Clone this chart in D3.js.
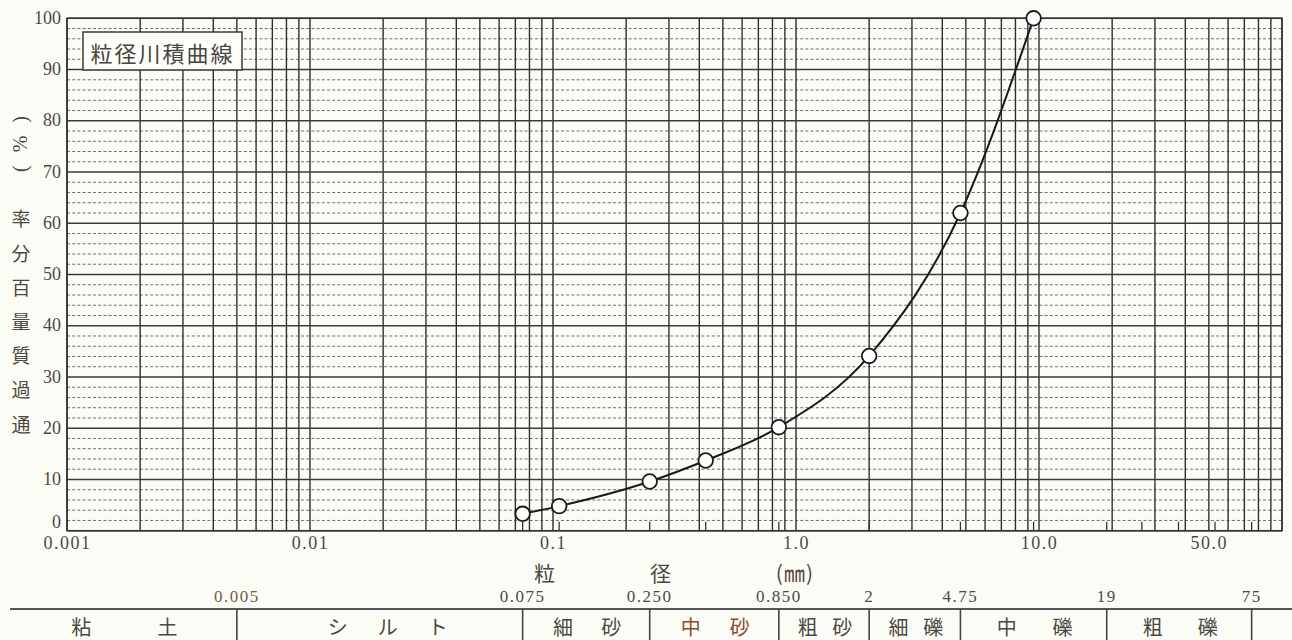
<!DOCTYPE html>
<html lang="ja">
<head>
<meta charset="utf-8">
<script src="https://cdn.jsdelivr.net/npm/d3@7/dist/d3.min.js"></script>
<style>
  html, body { margin: 0; padding: 0; background: #fcfcf7; }
  svg { display: block; }
</style>
</head>
<body>
<svg id="chart" width="1292" height="640"></svg>
<script>
// ---------- data ----------
const sieveSizes = [0.075, 0.106, 0.25, 0.425, 0.85, 2, 4.75, 9.5];      // mm
const passingPct = [3.3, 4.8, 9.6, 13.7, 20.2, 34.1, 62.0, 100];          // %
const yTickValues = [0, 10, 20, 30, 40, 50, 60, 70, 80, 90, 100];
const xTickValues = [0.001, 0.01, 0.1, 1, 10, 50];
const xTickLabels = ["0.001", "0.01", "0.1", "1.0", "10.0", "50.0"];
const sieveMarks = [0.075, 0.106, 0.25, 0.425, 0.85, 2, 4.75, 9.5, 19, 26.5, 37.5, 53, 75];
const boundaryValues = [0.005, 0.075, 0.25, 0.85, 2, 4.75, 19, 75];
const boundaryLabels = ["0.005", "0.075", "0.250", "0.850", "2", "4.75", "19", "75"];
const soilClasses = ["粘土", "シルト", "細砂", "中砂", "粗砂", "細礫", "中礫", "粗礫"];
const chartTitle = "粒径川積曲線";
const yTitleChars = ["通", "過", "質", "量", "百", "分", "率"];
const yTitleUnit = "( % )";
const xTitleParts = [{t: "粒", v: 0.0927}, {t: "径", v: 0.278}, {t: "(㎜)", v: 0.99}];

// ---------- layout ----------
const L = 67, R = 1282, T = 18.3, B = 530.7;
const svg = d3.select("#chart");
const x = d3.scaleLog().domain([0.001, 100]).range([L, R]);
const y = d3.scaleLinear().domain([0, 100]).range([B, T]);

const numFont = "'Liberation Serif', 'DejaVu Serif', serif";
const cjkFont = "'Noto Sans CJK JP', 'Noto Sans', sans-serif";
const textCol = "#4e4843";

// ---------- grid ----------
const grid = svg.append("g");
// minor horizontal (dotted) every 2 %
const minorY = d3.range(2, 100, 2).filter(v => v % 10 !== 0);
grid.selectAll("line.hmin").data(minorY).enter().append("line")
  .attr("x1", L).attr("x2", R)
  .attr("y1", d => y(d)).attr("y2", d => y(d))
  .attr("stroke", "#6e6e6e").attr("stroke-width", 1)
  .attr("stroke-dasharray", "3,2.2");
// vertical lines 1..9 per decade
const vLines = [];
[0.001, 0.01, 0.1, 1, 10].forEach(d => { for (let k = 1; k <= 9; k++) vLines.push(d * k); });
vLines.push(100);
grid.selectAll("line.v").data(vLines).enter().append("line")
  .attr("x1", d => x(d)).attr("x2", d => x(d))
  .attr("y1", T).attr("y2", B)
  .attr("stroke", "#2e2e2e").attr("stroke-width", 1.4);
// major horizontal every 10 %
grid.selectAll("line.hmaj").data(yTickValues).enter().append("line")
  .attr("x1", L).attr("x2", R)
  .attr("y1", d => y(d)).attr("y2", d => y(d))
  .attr("stroke", "#3a3a3a").attr("stroke-width", 1.4);
// sieve marks on bottom
grid.selectAll("line.sv").data(sieveMarks).enter().append("line")
  .attr("x1", d => x(d)).attr("x2", d => x(d))
  .attr("y1", B).attr("y2", B - 9)
  .attr("stroke", "#333").attr("stroke-width", 1.3);
// frame
svg.append("rect").attr("x", L).attr("y", T).attr("width", R - L).attr("height", B - T)
  .attr("fill", "none").attr("stroke", "#333").attr("stroke-width", 1.5);

// ---------- axes labels ----------
const yAxis = d3.axisLeft(y).tickValues(yTickValues).tickSize(0).tickPadding(5);
const gy = svg.append("g").attr("transform", `translate(${L - 1},0)`).call(yAxis);
gy.select(".domain").remove();
gy.selectAll("text").attr("font-family", numFont).attr("font-size", 18)
  .attr("fill", textCol).attr("dy", d => d === 0 ? "-0.2em" : "0.28em");

const xAxis = d3.axisBottom(x).tickValues(xTickValues).tickSize(0).tickPadding(4)
  .tickFormat((d, i) => xTickLabels[i]);
const gx = svg.append("g").attr("transform", `translate(0,${B})`).call(xAxis);
gx.select(".domain").remove();
gx.selectAll("text").attr("font-family", numFont).attr("font-size", 18)
  .attr("fill", textCol).attr("letter-spacing", 1.5).attr("dy", "0.8em");

// y axis title (vertical, read bottom to top)
const yTitleStart = 423, yTitleStep = 34.2;
svg.append("g").selectAll("text").data(yTitleChars).enter().append("text")
  .attr("x", 21).attr("y", (d, i) => yTitleStart - i * yTitleStep)
  .attr("text-anchor", "middle").attr("dominant-baseline", "central")
  .attr("font-family", cjkFont).attr("font-size", 19).attr("fill", textCol)
  .text(d => d);
svg.append("text")
  .attr("transform", "translate(20,142) rotate(-90)")
  .attr("text-anchor", "middle").attr("dominant-baseline", "central")
  .attr("font-family", numFont).attr("font-size", 20).attr("fill", textCol)
  .attr("xml:space", "preserve").attr("letter-spacing", 4)
  .text(yTitleUnit);

// x title
svg.append("g").selectAll("text").data(xTitleParts).enter().append("text")
  .attr("x", d => x(d.v)).attr("y", 572)
  .attr("text-anchor", "middle").attr("dominant-baseline", "central")
  .attr("font-family", cjkFont).attr("font-size", 21).attr("fill", textCol)
  .attr("letter-spacing", 1)
  .text(d => d.t);

// ---------- curve ----------
const pts = sieveSizes.map((s, i) => [s, passingPct[i]]);
const line = d3.line().x(d => x(d[0])).y(d => y(d[1])).curve(d3.curveMonotoneX);
svg.append("path").datum(pts).attr("d", line)
  .attr("fill", "none").attr("stroke", "#1a1a1a").attr("stroke-width", 2);
svg.append("g").selectAll("circle").data(pts).enter().append("circle")
  .attr("cx", d => x(d[0])).attr("cy", d => y(d[1])).attr("r", 7.3)
  .attr("fill", "#fff").attr("stroke", "#1a1a1a").attr("stroke-width", 1.8);

// ---------- title box ----------
svg.append("rect").attr("x", 83).attr("y", 32).attr("width", 159).attr("height", 38)
  .attr("fill", "#fdfdf9").attr("stroke", "#3a3a3a").attr("stroke-width", 1.5);
svg.append("text").attr("x", 162.5).attr("y", 52)
  .attr("text-anchor", "middle").attr("dominant-baseline", "central")
  .attr("font-family", cjkFont).attr("font-size", 22).attr("letter-spacing", 2)
  .attr("fill", "#4a4440").text(chartTitle);

// ---------- classification table ----------
const tableLineY = 609, tableText = 626, tableLeft = 10;
svg.append("line").attr("x1", tableLeft).attr("x2", 1292)
  .attr("y1", tableLineY).attr("y2", tableLineY)
  .attr("stroke", "#555").attr("stroke-width", 2);
svg.append("g").selectAll("line").data(boundaryValues).enter().append("line")
  .attr("x1", d => x(d)).attr("x2", d => x(d))
  .attr("y1", tableLineY).attr("y2", 640)
  .attr("stroke", "#444").attr("stroke-width", 1.6);
svg.append("g").selectAll("text").data(boundaryValues).enter().append("text")
  .attr("x", d => x(d)).attr("y", 596)
  .attr("text-anchor", "middle").attr("dominant-baseline", "central")
  .attr("font-family", numFont).attr("font-size", 17).attr("letter-spacing", 1.5)
  .attr("fill", (d, i) => i === 0 ? "#7a5a45" : textCol)
  .text((d, i) => boundaryLabels[i]);

const edges = [tableLeft].concat(boundaryValues.map(v => x(v)));
soilClasses.forEach((name, i) => {
  const x0 = edges[i], x1 = edges[i + 1];
  const chars = Array.from(name);
  const n = chars.length;
  const span = (x1 - x0) * (n > 2 ? 0.35 : 0.38);
  const cx = (x0 + x1) / 2 + (n > 2 ? 8 : 1);
  chars.forEach((c, j) => {
    svg.append("text")
      .attr("x", cx + (j - (n - 1) / 2) * (span / (n - 1)))
      .attr("y", tableText)
      .attr("text-anchor", "middle").attr("dominant-baseline", "central")
      .attr("font-family", cjkFont).attr("font-size", 20)
      .attr("fill", name === "中砂" ? "#8a4a32" : textCol)
      .text(c);
  });
});
</script>
</body>
</html>
